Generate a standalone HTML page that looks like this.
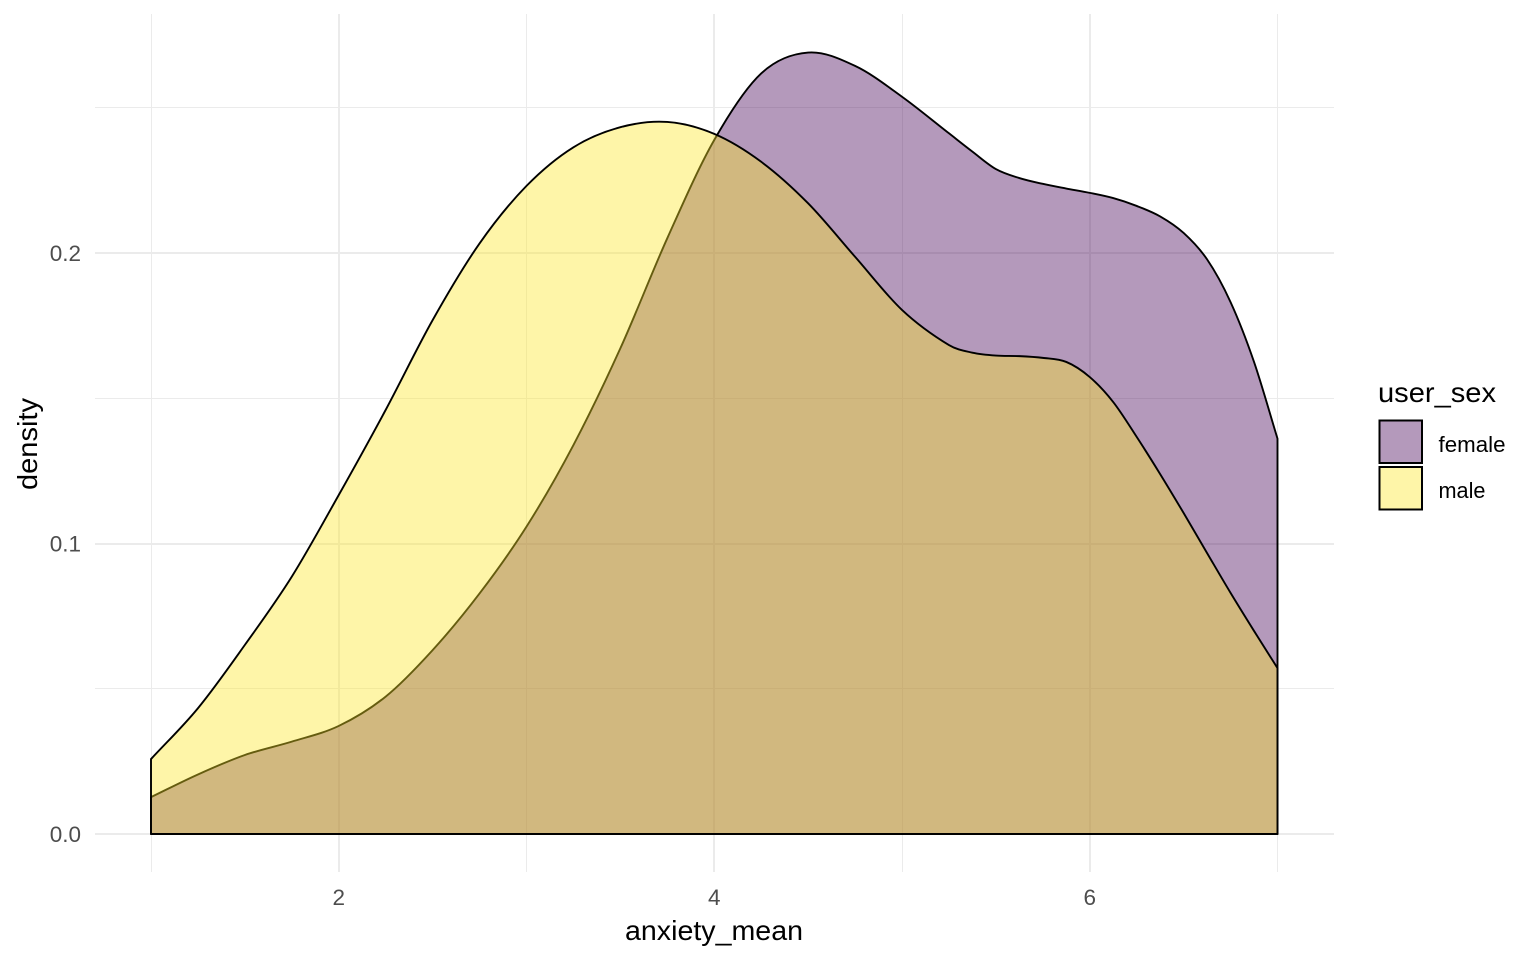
<!DOCTYPE html>
<html lang="en">
<head>
<meta charset="utf-8">
<title>Density of anxiety_mean by user_sex</title>
<style>
html,body{margin:0;padding:0;background:#fff;}
svg{display:block;font-family:"Liberation Sans",Arial,sans-serif;}
</style>
</head>
<body>
<svg id="chart" xmlns="http://www.w3.org/2000/svg" width="1536" height="960" viewBox="0 0 1536 960">
  <rect x="0" y="0" width="1536" height="960" fill="#ffffff"/>
  <g id="grid"></g>
  <g id="areas"></g>
  <g id="ticks"></g>
  <text x="625" y="940" font-size="27.5" fill="#000" textLength="178" lengthAdjust="spacingAndGlyphs">anxiety_mean</text>
  <text transform="translate(37,490) rotate(-90)" font-size="27.5" fill="#000" textLength="92" lengthAdjust="spacingAndGlyphs">density</text>
  <g>
    <text x="1378" y="402" font-size="27.5" fill="#000" textLength="118" lengthAdjust="spacingAndGlyphs">user_sex</text>
    <rect x="1379.5" y="420.5" width="42.5" height="42.5" fill="#440154" fill-opacity="0.4" stroke="#000" stroke-width="2"/>
    <rect x="1379.5" y="467" width="42.5" height="42.5" fill="#FDE725" fill-opacity="0.4" stroke="#000" stroke-width="2"/>
    <text x="1438.5" y="452" font-size="22.5" fill="#000" textLength="67" lengthAdjust="spacingAndGlyphs">female</text>
    <text x="1438.5" y="498" font-size="22.5" fill="#000" textLength="47" lengthAdjust="spacingAndGlyphs">male</text>
  </g>
</svg>
<script>
const anxietyValues = [1,1.25,1.5,1.75,2,2.25,2.5,2.75,3,3.25,3.5,3.75,4,4.25,4.5,4.75,5,5.25,5.375,5.5,5.625,5.75,5.875,6,6.125,6.25,6.375,6.5,6.625,6.75,6.875,7];
const femaleDensity = [0.0127,0.0205,0.0272,0.0318,0.0372,0.0473,0.0633,0.0828,0.1058,0.1339,0.1672,0.2051,0.2389,0.2618,0.269,0.2644,0.2538,0.2412,0.2349,0.2289,0.2258,0.2238,0.2222,0.2207,0.2189,0.2162,0.2126,0.2069,0.1978,0.1831,0.1625,0.1361];
const maleDensity = [0.0258,0.0433,0.0651,0.0886,0.1167,0.146,0.1769,0.2033,0.2231,0.2364,0.2433,0.2451,0.241,0.2314,0.2171,0.1987,0.1804,0.1683,0.1657,0.1647,0.1645,0.1639,0.1625,0.1573,0.1487,0.1367,0.1239,0.1105,0.0967,0.083,0.0699,0.0571];
const xMajorTicks = [2,4,6];
const xMinorTicks = [1,3,5,7];
const yMajorTicks = [0,0.1,0.2];
const yMinorTicks = [0.05,0.15,0.25];
const yTickLabels = ["0.0","0.1","0.2"];
const xTickLabels = ["2","4","6"];

const NS = "http://www.w3.org/2000/svg";
const PANEL = {left:95, right:1334, top:14, bottom:872};
function xScale(v){ return 151 + (v - 1) * 187.75; }
function yScale(v){ return 834 - v * 2905; }
function snapMajor(p){ return Math.round(p); }
function snapMinor(p){ return Math.floor(p) + 0.5; }

function line(parent, x1, y1, x2, y2, width, name){
  const el = document.createElementNS(NS, "line");
  el.setAttribute("x1", x1);
  el.setAttribute("y1", y1);
  el.setAttribute("x2", x2);
  el.setAttribute("y2", y2);
  el.setAttribute("stroke", "#EBEBEB");
  el.setAttribute("stroke-width", width);
  
  
  parent.appendChild(el);
}
function label(parent, x, y, text, anchor, name){
  const el = document.createElementNS(NS, "text");
  el.setAttribute("x", x);
  el.setAttribute("y", y);
  el.setAttribute("font-size", "22.5");
  el.setAttribute("fill", "#4D4D4D");
  el.setAttribute("text-anchor", anchor);
  el.textContent = text;
  
  
  parent.appendChild(el);
}
function smoothPath(xs, ys){
  const pts = xs.map((x, i) => [xScale(x), yScale(ys[i])]);
  const n = pts.length;
  const slopes = pts.map((p, i) => {
    const a = pts[Math.max(i - 1, 0)];
    const b = pts[Math.min(i + 1, n - 1)];
    return (b[1] - a[1]) / (b[0] - a[0]);
  });
  let d = "M" + pts[0][0].toFixed(2) + "," + yScale(0).toFixed(2) + " L" + pts[0][0].toFixed(2) + "," + pts[0][1].toFixed(2);
  for (let i = 0; i < n - 1; i++){
    const p1 = pts[i];
    const p2 = pts[i + 1];
    const h = (p2[0] - p1[0]) / 3;
    d += " C" + (p1[0] + h).toFixed(2) + "," + (p1[1] + slopes[i] * h).toFixed(2) + " " + (p2[0] - h).toFixed(2) + "," + (p2[1] - slopes[i + 1] * h).toFixed(2) + " " + p2[0].toFixed(2) + "," + p2[1].toFixed(2);
  }
  d += " L" + pts[n - 1][0].toFixed(2) + "," + yScale(0).toFixed(2) + " Z";
  return d;
}

const grid = document.getElementById("grid");
xMinorTicks.forEach(v => line(grid, snapMinor(xScale(v)), PANEL.top, snapMinor(xScale(v)), PANEL.bottom, 1, "x-minor-gridline"));
yMinorTicks.forEach(v => line(grid, PANEL.left, snapMinor(yScale(v)), PANEL.right, snapMinor(yScale(v)), 1, "y-minor-gridline"));
xMajorTicks.forEach(v => line(grid, snapMajor(xScale(v)), PANEL.top, snapMajor(xScale(v)), PANEL.bottom, 2, "x-major-gridline"));
yMajorTicks.forEach(v => line(grid, PANEL.left, snapMajor(yScale(v)), PANEL.right, snapMajor(yScale(v)), 2, "y-major-gridline"));

const areas = document.getElementById("areas");
const femaleArea = document.createElementNS(NS, "path");
femaleArea.setAttribute("d", smoothPath(anxietyValues, femaleDensity));
femaleArea.setAttribute("fill", "#440154");
femaleArea.setAttribute("fill-opacity", "0.4");
femaleArea.setAttribute("stroke", "#000");
femaleArea.setAttribute("stroke-width", "1.9");
femaleArea.setAttribute("stroke-linejoin", "round");


areas.appendChild(femaleArea);

const maleArea = document.createElementNS(NS, "path");
maleArea.setAttribute("d", smoothPath(anxietyValues, maleDensity));
maleArea.setAttribute("fill", "#FDE725");
maleArea.setAttribute("fill-opacity", "0.4");
maleArea.setAttribute("stroke", "#000");
maleArea.setAttribute("stroke-width", "1.9");
maleArea.setAttribute("stroke-linejoin", "round");


areas.appendChild(maleArea);

const ticks = document.getElementById("ticks");
xMajorTicks.forEach((v, i) => label(ticks, xScale(v), 905, xTickLabels[i], "middle", "x-tick-label"));
yMajorTicks.forEach((v, i) => label(ticks, 81, yScale(v) + 8, yTickLabels[i], "end", "y-tick-label"));
</script>
</body>
</html>
